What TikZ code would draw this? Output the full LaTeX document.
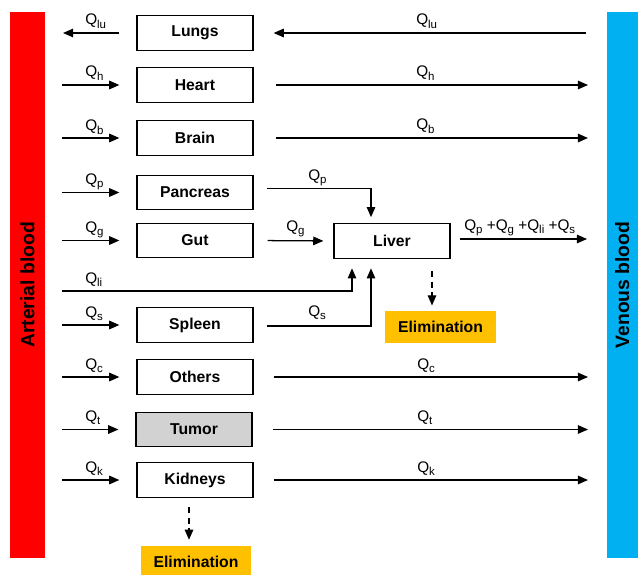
\documentclass[tikz,border=0pt]{standalone}
\usepackage{fontspec}
\setmainfont{Liberation Sans}
\usetikzlibrary{arrows.meta,calc}
\definecolor{artcol}{HTML}{FF0000}
\definecolor{vencol}{HTML}{00B0F0}
\definecolor{elimcol}{HTML}{FFC000}
\definecolor{tumcol}{HTML}{D2D2D2}
\newcommand{\qsub}[1]{Q\raisebox{-0.4ex}{\fontsize{8.6}{9}\selectfont #1}}
\begin{document}
\begin{tikzpicture}[x=0.75pt,y=-0.75pt,
  organ/.style={draw, line width=0.95pt, minimum width=87pt, minimum height=25.8pt, inner sep=0pt, font=\fontsize{11.8}{14}\selectfont\bfseries},
  flow/.style={line width=0.95pt, -{Triangle[length=7.6pt,width=6.4pt]}},
  elimbox/.style={fill=elimcol, minimum width=83pt, inner sep=0pt, font=\fontsize{11.8}{14}\selectfont\bfseries},
  ql/.style={anchor=base west, inner sep=0pt, font=\fontsize{11.5}{14}\selectfont},
  barnode/.style={rotate=90, inner sep=0pt, font=\fontsize{14.5}{17}\selectfont\bfseries}
]
\useasboundingbox (0,0) rectangle (638,574);

% blood bars
\node[barnode, fill=artcol, minimum width=409.5pt, minimum height=26.25pt] (art) at (27.5,285) {Arterial blood};
\node[barnode, fill=vencol, minimum width=409.5pt, minimum height=23.5pt] (ven) at (622.3,285) {Venous blood};

% organs
\node[organ] (lungs) at (195,33) {Lungs};
\node[organ] (heart) at (195,85) {Heart};
\node[organ] (brain) at (195,138) {Brain};
\node[organ] (pancreas) at (195,192.5) {Pancreas};
\node[organ] (gut) at (195,240.5) {Gut};
\node[organ] (spleen) at (195,325) {Spleen};
\node[organ] (others) at (195,377) {Others};
\node[organ, fill=tumcol] (tumor) at (194,429.5) {Tumor};
\node[organ] (kidneys) at (195,480) {Kidneys};
\node[organ] (liver) at (392,241) {Liver};

\node[elimbox, minimum height=23.6pt] (elim1) at (440.5,326.8) {Elimination};
\node[elimbox, minimum height=23.2pt, minimum width=82.5pt] (elim2) at (196,561.5) {Elimination};

% arterial-side coordinates
\coordinate (aLu) at (63,33);
\coordinate (aH) at (62,85);
\coordinate (aB) at (62,138);
\coordinate (aP) at (62,192.5);
\coordinate (aG) at (62,240.5);
\coordinate (aLi) at (62,291);
\coordinate (aS) at (62,325);
\coordinate (aO) at (62,377);
\coordinate (aT) at (62,429.5);
\coordinate (aK) at (62,480);
% venous-side coordinates
\coordinate (vLu) at (586,33);
\coordinate (vH) at (588,85);
\coordinate (vB) at (588,138);
\coordinate (vLi) at (587,239);
\coordinate (vO) at (588,377);
\coordinate (vT) at (588,429.5);
\coordinate (vK) at (588,480);

% lungs
\draw[flow, shorten <=12.75pt] (lungs.west) -- (aLu);
\draw[flow, shorten >=15pt] (vLu) -- (lungs.east);
% inflows from arterial blood
\foreach \o/\a in {heart/aH, brain/aB, pancreas/aP, gut/aG, spleen/aS, others/aO, tumor/aT, kidneys/aK}
  \draw[flow, shorten >=12.75pt] (\a) -- (\o.west);
% outflows to venous blood
\draw[flow, shorten <=16.5pt] (heart.east) -- (vH);
\draw[flow, shorten <=16.5pt] (brain.east) -- (vB);
\draw[flow, shorten <=15pt] (others.east) -- (vO);
\draw[flow, shorten <=15pt] (tumor.east) -- (vT);
\draw[flow, shorten <=15pt] (kidneys.east) -- (vK);

% liver connections
\draw[flow] ($(pancreas.east)+(13,-4)$) -| ($(liver.north)+(-21,-6)$);
\draw[flow, shorten <=10.5pt, shorten >=7.5pt] (gut.east) -- (liver.west);
\draw[flow] (aLi) -| ($(liver.south)+(-40,9.5)$);
\draw[flow] ($(spleen.east)+(13,1)$) -| ($(liver.south)+(-21,9.5)$);
\draw[flow] ($(liver.east)+(9,-2)$) -- (vLi);

% elimination
\coordinate (ls) at ($(liver.south)+(40,12)$);
\draw[flow, dash pattern=on 4.5pt off 3.5pt, shorten >=4pt] (ls) -- (ls |- elim1.north);
\coordinate (ks) at ($(kidneys.south)+(-6,9)$);
\draw[flow, dash pattern=on 4.5pt off 3.5pt, shorten >=4.5pt] (ks) -- (ks |- elim2.north);

% labels left
\node[ql] (lLu) at (85,25) {\qsub{lu}};
\node[ql] (lH) at (85,77) {\qsub{h}};
\node[ql] (lB) at (85,131) {\qsub{b}};
\node[ql] (lP) at (85,184.5) {\qsub{p}};
\node[ql] (lG) at (85,232.5) {\qsub{g}};
\node[ql] (lLi) at (85,283) {\qsub{li}};
\node[ql] (lS) at (85,317) {\qsub{s}};
\node[ql] (lO) at (85,369) {\qsub{c}};
\node[ql] (lT) at (85,421.5) {\qsub{t}};
\node[ql] (lK) at (85,472) {\qsub{k}};
% labels right
\node[ql] (rLu) at (416,25) {\qsub{lu}};
\node[ql] (rH) at (416,77) {\qsub{h}};
\node[ql] (rB) at (416,130) {\qsub{b}};
\node[ql] (rO) at (417,369) {\qsub{c}};
\node[ql] (rT) at (417,421.5) {\qsub{t}};
\node[ql] (rK) at (417,472.5) {\qsub{k}};
% labels liver
\node[ql] (liP) at (308,180) {\qsub{p}};
\node[ql] (liG) at (286,231) {\qsub{g}};
\node[ql] (liS) at (308,316) {\qsub{s}};
\node[ql] (liSum) at (464,230) {\qsub{p} +\qsub{g} +\qsub{li} +\qsub{s}};
\end{tikzpicture}
\end{document}
